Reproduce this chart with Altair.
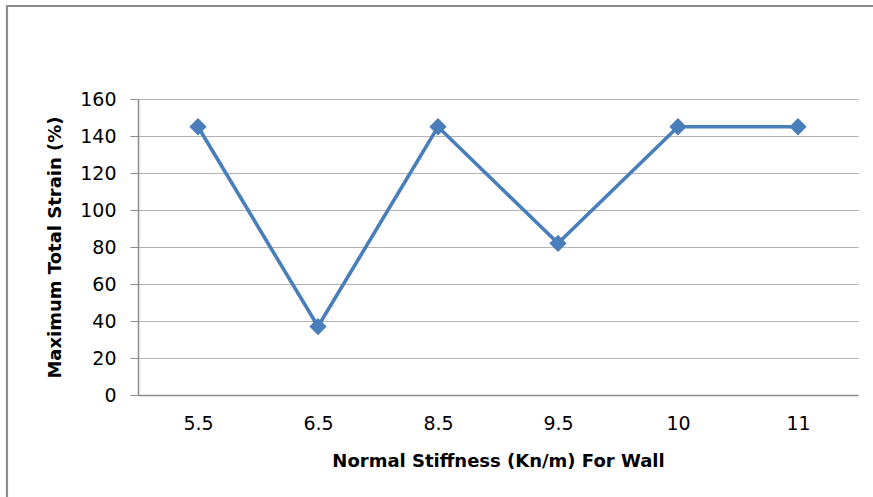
import altair as alt
import pandas as pd

# Normal stiffness of the wall (category labels) and the resulting maximum total strain
stiffness = ["5.5", "6.5", "8.5", "9.5", "10", "11"]
max_strain = [145, 37, 145, 82, 145, 145]

y_ticks = [0, 20, 40, 60, 80, 100, 120, 140, 160]

df = pd.DataFrame({"stiffness": stiffness, "strain": max_strain})

BLUE = "#4A7EBB"
GRID = "#B3B3B3"
AXIS = "#8C8C8C"
TITLE_FONT = "DejaVu Sans"

x_enc = alt.X(
    "stiffness:N",
    sort=stiffness,
    scale=alt.Scale(padding=0.5),
    axis=alt.Axis(
        title="Normal Stiffness (Kn/m) For Wall",
        labelAngle=0,
        labelFont="DejaVu Sans",
        labelFontSize=19,
        labelColor="#000000",
        labelPadding=19,
        ticks=False,
        domainColor=AXIS,
        domainWidth=1.5,
        grid=False,
        titleFont=TITLE_FONT,
        titleFontSize=18,
        titleFontWeight="bold",
        titleColor="#000000",
        titleX=360,
        titleY=66,
        titleAlign="center",
        titleBaseline="middle",
    ),
)

y_enc = alt.Y(
    "strain:Q",
    scale=alt.Scale(domain=[0, 160], nice=False),
    axis=alt.Axis(
        title="Maximum Total Strain (%)",
        values=y_ticks,
        labelFont="DejaVu Sans",
        labelFontSize=19,
        labelColor="#000000",
        labelPadding=14,
        tickSize=8,
        tickColor=AXIS,
        domainColor=AXIS,
        domainWidth=1.5,
        gridColor=GRID,
        gridWidth=1.2,
        titleFont=TITLE_FONT,
        titleFontSize=18,
        titleFontWeight="bold",
        titleColor="#000000",
        titleX=-83,
        titleY=148,
        titleAngle=270,
        titleAlign="center",
        titleBaseline="middle",
    ),
)

line = alt.Chart(df).mark_line(color=BLUE, strokeWidth=3.6).encode(x=x_enc, y=y_enc)
points = alt.Chart(df).mark_point(
    shape="diamond", filled=True, size=300, color=BLUE, opacity=1
).encode(x=x_enc, y=y_enc)

# outer chart frame (top and left edges)
frame_df = pd.DataFrame({"k": [0]})
frame_top = alt.Chart(frame_df).mark_rule(color=AXIS, strokeWidth=2.2).encode(
    x=alt.value(-132), x2=alt.value(740), y=alt.value(-93)
)
frame_left = alt.Chart(frame_df).mark_rule(color=AXIS, strokeWidth=2.2).encode(
    x=alt.value(-131), y=alt.value(-94), y2=alt.value(400)
)

chart = (
    alt.layer(frame_top, frame_left, line, points)
    .properties(
        width=720,
        height=296,
        autosize=alt.AutoSizeParams(type="none"),
        padding={"left": 138, "top": 99, "right": 15, "bottom": 102},
        background="#FFFFFF",
    )
    .configure_view(stroke=None)
)

chart.save("out.html", embed_options={"renderer": "svg", "actions": False})
